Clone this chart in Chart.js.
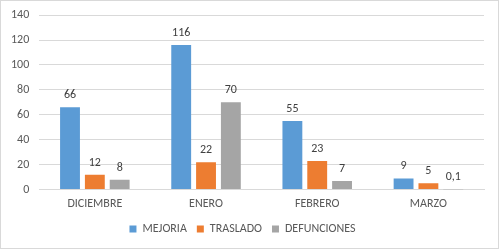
<!DOCTYPE html>
<html>
<head>
<meta charset="utf-8">
<script src="https://cdn.jsdelivr.net/npm/chart.js@4.4.1/dist/chart.umd.min.js"></script>
<style>
  html, body { margin: 0; padding: 0; background: #fff; }
  #wrap { width: 499px; height: 249px; }
</style>
</head>
<body>
<div id="wrap"><canvas id="chart" width="499" height="249"></canvas></div>
<script>
const months = ['DICIEMBRE', 'ENERO', 'FEBRERO', 'MARZO'];
const mejoria = [66, 116, 55, 9];
const traslado = [12, 22, 23, 5];
const defunciones = [8, 70, 7, 0.1];
const yTicks = [0, 20, 40, 60, 80, 100, 120, 140];

const FONT = 'Carlito, "Liberation Sans"';
const TXT = '#595959';

// border around the whole chart, like the office chart frame
const framePlugin = {
    id: 'frame',
    beforeDraw(chart) {
        const c = chart.ctx;
        c.save();
        c.fillStyle = '#fff';
        c.fillRect(0, 0, chart.width, chart.height);
        c.strokeStyle = '#d9d9d9';
        c.lineWidth = 1;
        c.strokeRect(0.5, 0.5, chart.width - 1, chart.height - 1);
        c.restore();
    }
};

// value labels above each bar
const valueLabels = {
    id: 'valueLabels',
    afterDatasetsDraw(chart) {
        const c = chart.ctx;
        c.save();
        c.font = '12px ' + FONT;
        c.fillStyle = '#404040';
        c.textAlign = 'center';
        c.textBaseline = 'bottom';
        chart.data.datasets.forEach((ds, i) => {
            const meta = chart.getDatasetMeta(i);
            meta.data.forEach((bar, j) => {
                const txt = String(ds.data[j]).replace('.', ',');
                c.fillText(txt, bar.x, bar.y - 6);
            });
        });
        c.restore();
    }
};

new Chart(document.getElementById('chart'), {
    type: 'bar',
    data: {
        labels: months,
        datasets: [
            { label: 'MEJORIA', data: mejoria, backgroundColor: '#5b9bd5' },
            { label: 'TRASLADO', data: traslado, backgroundColor: '#ed7d31' },
            { label: 'DEFUNCIONES', data: defunciones, backgroundColor: '#a5a5a5' }
        ]
    },
    options: {
        responsive: false,
        animation: false,
        devicePixelRatio: 1,
        layout: { padding: { left: 1, right: 15, top: 0, bottom: 4 } },
        datasets: { bar: { categoryPercentage: 0.67, barPercentage: 0.8 } },
        scales: {
            x: {
                grid: { display: false, drawTicks: false },
                border: { color: '#d9d9d9' },
                ticks: { color: TXT, font: { family: FONT, size: 12 }, padding: 7 },
                afterFit(axis) { axis.height -= 5; }
            },
            y: {
                min: 0,
                max: 140,
                afterBuildTicks(axis) { axis.ticks = yTicks.map(v => ({ value: v })); },
                grid: { color: '#d9d9d9', drawTicks: false },
                border: { display: false },
                ticks: { color: TXT, font: { family: FONT, size: 12, lineHeight: 0.85 }, padding: 10 }
            }
        },
        plugins: {
            legend: {
                position: 'bottom',
                labels: {
                    color: TXT,
                    font: { family: FONT, size: 12 },
                    boxWidth: 7,
                    boxHeight: 7,
                    padding: 10
                }
            },
            tooltip: { enabled: false }
        }
    },
    plugins: [framePlugin, valueLabels]
});
</script>
</body>
</html>
